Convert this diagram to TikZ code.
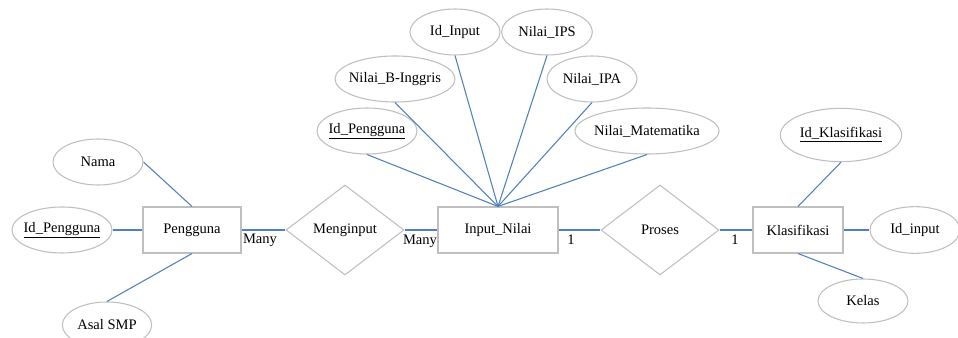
\documentclass[tikz,border=0pt]{standalone}
\usepackage{fontspec}
\setmainfont{Liberation Serif}
\usetikzlibrary{shapes.geometric}
\definecolor{linkblue}{RGB}{79,129,189}
\definecolor{shapegray}{RGB}{191,191,191}
\begin{document}
\begin{tikzpicture}[x=0.75pt,y=-0.75pt,
    font=\fontsize{10.9}{13}\selectfont,
    entity/.style={draw=shapegray,line width=0.8pt,rectangle,minimum height=34.5pt,inner sep=0pt},
    attr/.style={draw=shapegray,line width=0.8pt,ellipse,minimum height=34.5pt,inner xsep=-3pt,inner ysep=0pt},
    rel/.style={draw=shapegray,line width=0.8pt,diamond,minimum width=88.5pt,minimum height=67.5pt,inner sep=0pt},
    link/.style={draw=linkblue,line width=0.8pt}]
      \useasboundingbox (0,0) rectangle (958,338);
      \draw
        (192,230) node[entity,minimum width=73.5pt] (pengguna){Pengguna}
        (498,230) node[entity,minimum width=90pt] (input){Input\_Nilai}
        (798,230) node[entity,minimum width=67.5pt] (klas){Klasifikasi}
        (345,230) node[rel] (menginput){Menginput}
        (660,230) node[rel] (proses){Proses}
        (98,162) node[attr,minimum width=67.5pt] (nama){Nama}
        (62,230) node[attr,minimum width=75pt] (idpeng){\underline{Id\_Pengguna}}
        (107,325) node[attr,minimum width=67pt] (asal){Asal SMP}
        (367,131) node[attr,minimum width=75pt] (idpeng2){\underline{Id\_Pengguna}}
        (395,79) node[attr,minimum width=90pt] (bing){Nilai\_B-Inggris}
        (455,32) node[attr,minimum width=67.5pt] (idinput){Id\_Input}
        (547,32) node[attr,minimum width=68pt] (ips){Nilai\_IPS}
        (592,79) node[attr,minimum width=67.5pt] (ipa){Nilai\_IPA}
        (647,131) node[attr,minimum width=108pt] (mtk){Nilai\_Matematika}
        (841,135) node[attr,minimum width=91pt,minimum height=40pt] (idklas){\underline{Id\_Klasifikasi}}
        (915,230) node[attr,minimum width=67.5pt,minimum height=35pt] (idin){Id\_input}
        (863,301) node[attr,minimum width=67.5pt,minimum height=33pt] (kelas){Kelas}
        (260,240) node (many1){Many}
        (420,241) node (many2){Many}
        (571,240) node (one1){1}
        (735,240) node (one2){1};
      \begin{scope}[link]
        \draw (nama.east) to (pengguna.north);
        \draw (idpeng) to (pengguna);
        \draw (asal.north) to (pengguna.south);
        \draw (pengguna) to (menginput);
        \draw (menginput) to (input);
        \draw (idpeng2.south) to (input.north);
        \draw (bing.south) to (input.north);
        \draw (idinput.south) to (input.north);
        \draw (ips.south) to (input.north);
        \draw (ipa.south) to (input.north);
        \draw (mtk.south) to (input.north);
        \draw (input) to (proses);
        \draw (proses) to (klas);
        \draw (idklas.south) to (klas.north);
        \draw (klas) to (idin);
        \draw (kelas.north) to (klas.south);
      \end{scope}
    \end{tikzpicture}
\end{document}
